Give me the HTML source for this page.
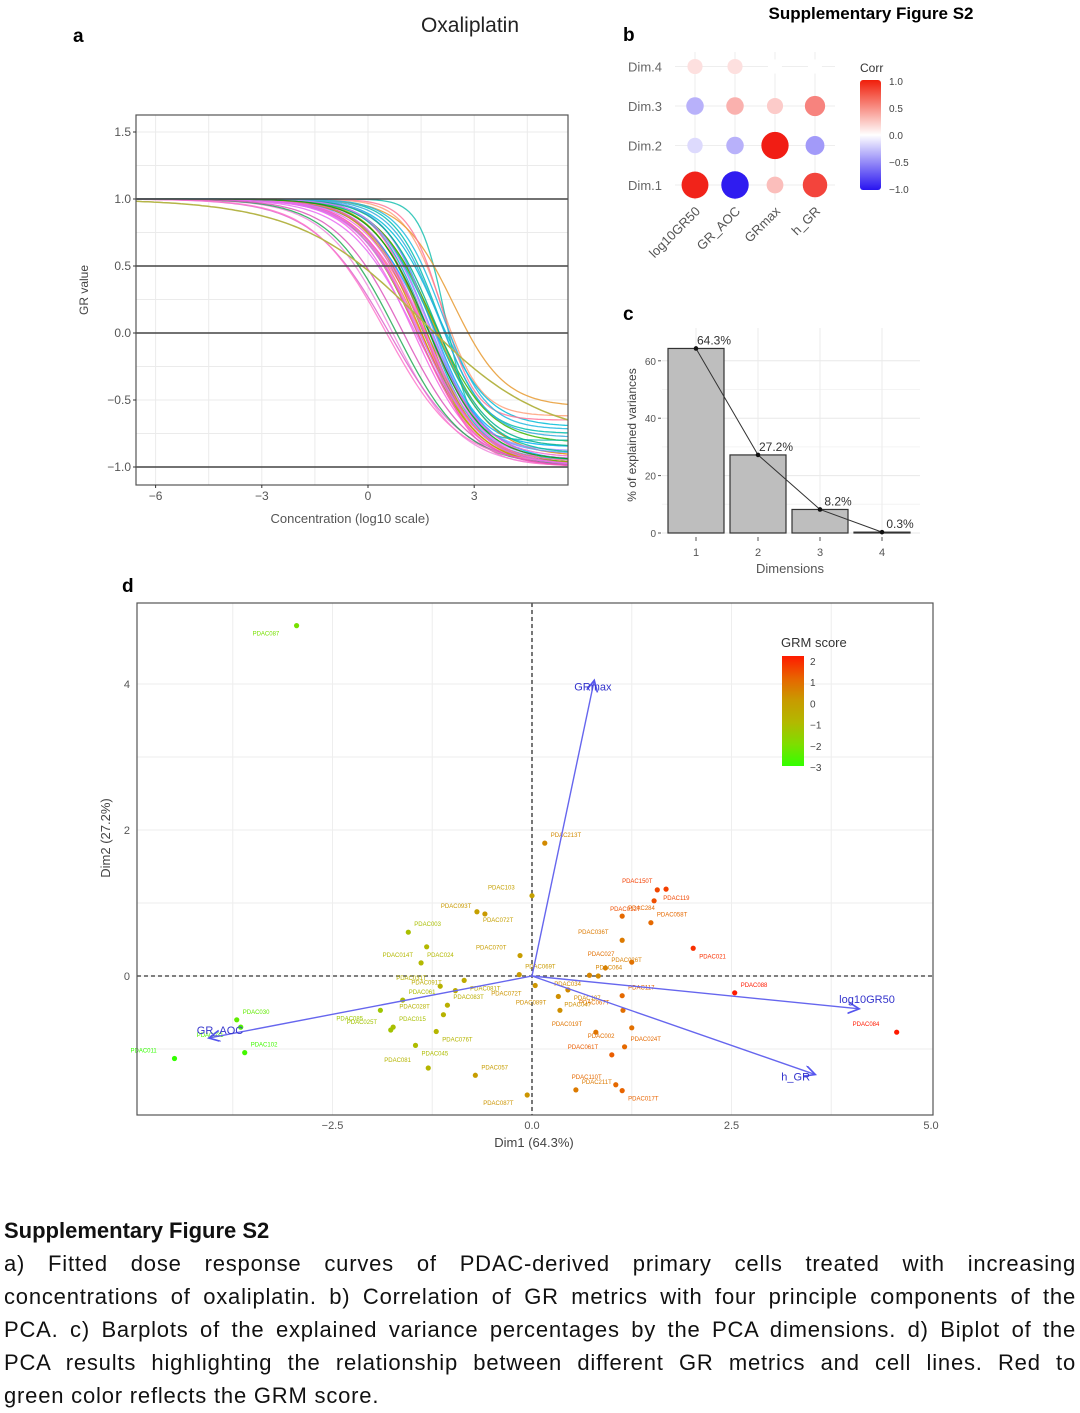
<!DOCTYPE html>
<html><head><meta charset="utf-8">
<style>
body{margin:0;background:#fff;width:1080px;height:1413px;overflow:hidden;position:relative;font-family:"Liberation Sans",sans-serif}
svg{position:absolute;left:0;top:0}
.cap{position:absolute;left:4px;width:1072px;font-size:22px;letter-spacing:0.8px;color:#111;line-height:33px}
.cap div{text-align:justify;text-align-last:justify;white-space:nowrap;overflow:hidden}
.cap div.last{text-align-last:left}
</style></head><body>
<svg id="fig" width="1080" height="1200"></svg>
<div class="cap" style="top:1214px">
<div class="last" style="font-weight:bold;font-size:22px;letter-spacing:0">Supplementary Figure S2</div>
<div>a) Fitted dose response curves of PDAC-derived primary cells treated with increasing</div>
<div>concentrations of oxaliplatin. b) Correlation of GR metrics with four principle components of the</div>
<div>PCA. c) Barplots of the explained variance percentages by the PCA dimensions. d) Biplot of the</div>
<div>PCA results highlighting the relationship between different GR metrics and cell lines. Red to</div>
<div class="last">green color reflects the GRM score.</div>
</div>
<script>
// ---- Panel a data ----
const curveMid=[1.5,1.6,1.7,1.4,1.8,1.9,1.65,1.55,1.3,2.0,1.75,1.45,1.85,2.1,1.6,1.7,1.35,1.95,1.5,1.8,0.7,0.6,0.8,0.5,2.2,2.4,2.1,1.7,1.9,1.4,1.65,2.0,1.6,1.85,1.75,1.55,1.0,2.1,1.45,1.7];
const curveHill=[0.5,0.55,0.6,0.5,0.65,0.55,0.45,0.55,0.5,0.7,0.6,0.48,0.55,0.8,0.65,0.5,0.45,0.6,0.55,0.65,0.45,0.4,0.45,0.42,1.2,0.6,0.9,0.55,0.6,0.52,0.58,0.65,0.5,0.55,0.6,0.55,0.45,0.7,0.5,0.55];
const curveInf=[-1,-0.98,-0.95,-1,-0.85,-0.92,-1,-0.97,-1,-0.75,-0.9,-1,-0.82,-0.62,-0.99,-0.96,-1,-0.7,-0.98,-0.88,-1,-1,-0.99,-0.98,-0.8,-0.55,-0.65,-0.93,-0.85,-1,-0.97,-0.78,-0.99,-0.9,-0.94,-0.96,-1,-0.72,-0.99,-0.95];
const curveCol=["#f8766d","#e76bf3","#00bfc4","#7cae00","#00b0f6","#e58700","#ff61c3","#00ba38","#f564e3","#00c0af","#619cff","#db72fb","#39b600","#ffa07a","#ff62bc","#00a9ff","#e76bf3","#00bcd8","#d39200","#9590ff","#ee88dd","#dd66cc","#22aa55","#ff77cc","#19c0b0","#e89a30","#ff7799","#f066d0","#00b08a","#ff55aa","#a3a500","#33aadd","#ee66ee","#00c19a","#c77cff","#ff6c91","#dd55bb","#20b8e0","#e070f0","#00a000"];
const olive={mid:1.5,hill:0.25,inf:-0.8};
const aYTicks=[-1.0,-0.5,0.0,0.5,1.0,1.5];
const aXTicks=[-6,-3,0,3];
// ---- Panel b data ----
const bCols=["log10GR50","GR_AOC","GRmax","h_GR"];
const bRows=["Dim.1","Dim.2","Dim.3","Dim.4"];
const bCorr=[[0.92,-0.96,0.2,0.75],[-0.1,-0.25,0.95,-0.35],[-0.25,0.25,0.15,0.45],[0.08,0.08,0.0,0.0]];
// ---- Panel c data ----
const cDims=["1","2","3","4"];
const cVals=[64.3,27.2,8.2,0.3];
const cYTicks=[0,20,40,60];
// ---- Panel d data ----
const dX=[-2.95,0.16,0.0,1.57,1.68,1.13,1.53,1.49,1.13,2.02,1.25,0.92,0.83,2.54,4.57,-0.69,-0.59,-1.55,-1.32,-1.39,-0.15,-0.85,-1.15,-1.62,-1.9,-1.74,-1.77,-1.46,-1.3,-0.71,-0.06,0.55,1.05,1.13,1.0,1.16,1.25,1.13,0.35,0.45,1.14,-0.16,0.04,-1.06,-1.11,-1.2,-0.96,-3.7,-3.65,-3.6,-4.48,0.33,0.8,0.72];
const dY=[4.8,1.82,1.1,1.18,1.19,0.82,1.03,0.73,0.49,0.38,0.19,0.11,0.0,-0.23,-0.77,0.88,0.85,0.6,0.4,0.18,0.28,-0.06,-0.14,-0.33,-0.47,-0.7,-0.74,-0.95,-1.26,-1.36,-1.63,-1.56,-1.49,-1.57,-1.08,-0.97,-0.71,-0.27,-0.47,-0.19,-0.47,0.02,-0.13,-0.4,-0.53,-0.76,-0.2,-0.6,-0.7,-1.05,-1.13,-0.28,-0.77,0.01];
const dScore=[-2.1,0.3,-0.2,1.4,1.5,0.9,1.3,0.9,0.6,1.7,0.8,0.5,0.3,2.0,2.2,-0.2,0.0,-1.2,-1.0,-1.0,-0.1,-0.5,-0.8,-1.1,-1.4,-1.2,-1.3,-1.1,-0.9,-0.1,0.1,0.6,0.9,1.0,1.1,0.9,0.8,0.9,0.2,0.3,0.8,0.0,0.1,-0.7,-0.8,-0.9,-0.6,-2.4,-2.6,-2.8,-3.0,0.2,0.7,0.4];
const dLab=["PDAC087","PDAC213T","PDAC103","PDAC119","PDAC150T","PDAC284","PDAC012T","PDAC058T","PDAC036T","PDAC021","PDAC027","PDAC026T","PDAC034","PDAC088","PDAC084","PDAC072T","PDAC093T","PDAC003","PDAC014T","PDAC024","PDAC070T","PDAC081T","PDAC031T","PDAC061","PDAC085","PDAC015","PDAC025T","PDAC045","PDAC081","PDAC057","PDAC087T","PDAC211T","PDAC110T","PDAC017T","PDAC061T","PDAC024T","PDAC002","PDAC117","PDAC089T","PDAC107","PDAC067T","PDAC069T","PDAC072T","PDAC083T","PDAC028T","PDAC076T","PDAC091T","PDAC030","PDAC031","PDAC102","PDAC011","PDAC047","PDAC019T","PDAC064"];
const arrName=["GRmax","log10GR50","h_GR","GR_AOC"];
const arrX=[0.78,4.1,3.55,-4.05];
const arrY=[4.05,-0.45,-1.35,-0.85];
const gradTicks=[2,1,0,-1,-2,-3];

const NS="http://www.w3.org/2000/svg";
const svg=document.getElementById('fig');
function el(tag,attrs,parent,text){const e=document.createElementNS(NS,tag);for(const k in attrs)e.setAttribute(k,attrs[k]);if(text!==undefined)e.textContent=text;(parent||svg).appendChild(e);return e;}
function txt(x,y,s,size,opts,parent){const o=Object.assign({x:x,y:y,'font-size':size,'font-family':'Liberation Sans, sans-serif',fill:'#333'},opts||{});return el('text',o,parent,s);}

let t;
t=txt(73,42,'a',19,{'font-weight':'bold',fill:'#000'});
t=txt(470,32,'Oxaliplatin',21,{'text-anchor':'middle',fill:'#222'});
t=txt(871,19,'Supplementary Figure S2',17,{'text-anchor':'middle','font-weight':'bold',fill:'#000'});
t=txt(623,41,'b',19,{'font-weight':'bold',fill:'#000'});
t=txt(623,320,'c',19,{'font-weight':'bold',fill:'#000'});
t=txt(122,592,'d',19,{'font-weight':'bold',fill:'#000'});

// ---- Panel a ----
const gA=el('g',{});
const aL=136,aR=568,aT=115,aB=485;
const ax=v=>368+v*35.4, ay=v=>333-v*134;
for(let v=-6;v<=5;v+=1.5){const l=el('line',{x1:ax(v),x2:ax(v),y1:aT,y2:aB,stroke:'#ebebeb','stroke-width':1},gA);}
for(let v=-1;v<=1.5;v+=0.25){const l=el('line',{x1:aL,x2:aR,y1:ay(v),y2:ay(v),stroke:'#ebebeb','stroke-width':1},gA);}
function curvePath(m,h,inf){let d='';for(let px=aL;px<=aR;px+=3){const x=(px-368)/35.4;const y=inf+(1-inf)/(1+Math.pow(10,h*(x-m)));d+=(d?'L':'M')+px.toFixed(1)+','+ay(y).toFixed(1);}return d;}
curveMid.forEach((m,i)=>{const p=el('path',{d:curvePath(m,curveHill[i],curveInf[i]),fill:'none',stroke:curveCol[i],'stroke-width':1.3,opacity:0.85},gA);});
{const p=el('path',{d:curvePath(olive.mid,olive.hill,olive.inf),fill:'none',stroke:'#b5b548','stroke-width':1.5},gA);}
[-1,0,0.5,1].forEach(v=>{const l=el('line',{x1:aL,x2:aR,y1:ay(v),y2:ay(v),stroke:'#444','stroke-width':1.6},gA);});
{const r=el('rect',{x:aL,y:aT,width:aR-aL,height:aB-aT,fill:'none',stroke:'#555','stroke-width':1.2},gA);}
aYTicks.forEach(v=>{const s=v<0?'\u2212'+Math.abs(v).toFixed(1):v.toFixed(1);const tt=txt(aL-5,ay(v)+4,s,12,{'text-anchor':'end',fill:'#555'},gA);el('line',{x1:aL-3,x2:aL,y1:ay(v),y2:ay(v),stroke:'#333'},gA);});
aXTicks.forEach(v=>{const s=v<0?'\u2212'+Math.abs(v):String(v);const tt=txt(ax(v),aB+15,s,12,{'text-anchor':'middle',fill:'#555'},gA);el('line',{x1:ax(v),x2:ax(v),y1:aB,y2:aB+3,stroke:'#333'},gA);});
t=txt(350,523,'Concentration (log10 scale)',13,{'text-anchor':'middle',fill:'#555'},gA);
t=txt(88,290,'GR value',12,{'text-anchor':'middle',fill:'#444',transform:'rotate(-90 88 290)'},gA);

// ---- Panel b ----
const gB=el('g',{});
const bx=i=>695+i*40, by=i=>185-i*39.5;
function corrColor(v){const a=Math.min(1,Math.abs(v));let c0=[255,255,255],c1=v>=0?[240,20,10]:[40,20,240];const k=Math.pow(a,0.8);return 'rgb('+c0.map((c,j)=>Math.round(c+(c1[j]-c)*k)).join(',')+')';}
for(let i=0;i<4;i++){el('line',{x1:bx(i),x2:bx(i),y1:52,y2:200,stroke:'#eee'},gB);el('line',{x1:675,x2:835,y1:by(i),y2:by(i),stroke:'#eee'},gB);}
bRows.forEach((r,i)=>{const tt=txt(662,by(i)+5,r,13,{'text-anchor':'end',fill:'#666'},gB);
 bCols.forEach((c,j)=>{const v=bCorr[i][j];const cc=el('circle',{cx:bx(j),cy:by(i),r:7+7*Math.abs(v),fill:corrColor(v)},gB);});});
bCols.forEach((c,j)=>{const x=bx(j)+6,y=212;const tt=txt(x,y,c,13,{'text-anchor':'end',fill:'#555',transform:'rotate(-45 '+x+' '+y+')'},gB);});
el('defs',{},svg).innerHTML='<linearGradient id="corrG" x1="0" y1="0" x2="0" y2="1"><stop offset="0" stop-color="#f01e0a"/><stop offset="0.5" stop-color="#fff"/><stop offset="1" stop-color="#2814f0"/></linearGradient><linearGradient id="grmG" x1="0" y1="0" x2="0" y2="1"><stop offset="0" stop-color="#ff1a00"/><stop offset="0.2" stop-color="#e86400"/><stop offset="0.4" stop-color="#c99a00"/><stop offset="0.6" stop-color="#b3b800"/><stop offset="0.8" stop-color="#7fdd00"/><stop offset="1" stop-color="#33ff00"/></linearGradient>';
t=txt(860,72,'Corr',12,{fill:'#333'},gB);
{const r=el('rect',{x:860,y:80,width:21,height:110,rx:3,fill:'url(#corrG)'},gB);}
[[1,'1.0'],[0.5,'0.5'],[0,'0.0'],[-0.5,'\u22120.5'],[-1,'\u22121.0']].forEach(([v,s])=>{const y=135-v*54;const tt=txt(889,y+4,s,10,{fill:'#444'},gB);});

// ---- Panel c ----
const gC=el('g',{});
const cL=662,cR=920,cT=328,cB=533;
const cx=i=>696+i*62, cy=v=>cB-v*2.87;
[0,10,20,30,40,50,60].forEach(v=>el('line',{x1:cL,x2:cR,y1:cy(v),y2:cy(v),stroke:v%20?'#f4f4f4':'#e8e8e8'},gC));
cDims.forEach((d,i)=>el('line',{x1:cx(i),x2:cx(i),y1:cT,y2:cB,stroke:'#ebebeb'},gC));
cVals.forEach((v,i)=>{const r=el('rect',{x:cx(i)-28,y:cy(v),width:56,height:cB-cy(v),fill:'#bebebe',stroke:'#333','stroke-width':1.2},gC);});
{let d='';cVals.forEach((v,i)=>{d+=(i?'L':'M')+cx(i)+','+cy(v);});const p=el('path',{d:d,fill:'none',stroke:'#333','stroke-width':1},gC);}
cVals.forEach((v,i)=>{const c=el('circle',{cx:cx(i),cy:cy(v),r:2.3,fill:'#111'},gC);const tt=txt(cx(i)+18,cy(v)-4,v+'%',12,{'text-anchor':'middle',fill:'#333'},gC);});
cYTicks.forEach(v=>{const tt=txt(cL-6,cy(v)+4,String(v),10,{'text-anchor':'end',fill:'#555'},gC);el('line',{x1:cL-4,x2:cL-1,y1:cy(v),y2:cy(v),stroke:'#555'},gC);});
cDims.forEach((d,i)=>{const tt=txt(cx(i),cB+23,d,11,{'text-anchor':'middle',fill:'#555'},gC);el('line',{x1:cx(i),x2:cx(i),y1:cB+4,y2:cB+8,stroke:'#555'},gC);});
t=txt(790,573,'Dimensions',13,{'text-anchor':'middle',fill:'#555'},gC);
t=txt(636,435,'% of explained variances',12,{'text-anchor':'middle',fill:'#444',transform:'rotate(-90 636 435)'},gC);

// ---- Panel d ----
const gD=el('g',{});
const dL=137,dR=933,dT=603,dB=1115;
const dx=v=>532+v*79.8, dy=v=>976-v*73;
[-3.75,-2.5,-1.25,0,1.25,2.5,3.75].forEach(v=>el('line',{x1:dx(v),x2:dx(v),y1:dT,y2:dB,stroke:'#eee'},gD));
[-1,0,1,2,3,4].forEach(v=>el('line',{x1:dL,x2:dR,y1:dy(v),y2:dy(v),stroke:'#eee'},gD));
el('line',{x1:dx(0),x2:dx(0),y1:dT,y2:dB,stroke:'#555','stroke-width':1.6,'stroke-dasharray':'4,3'},gD);
el('line',{x1:dL,x2:dR,y1:dy(0),y2:dy(0),stroke:'#555','stroke-width':1.6,'stroke-dasharray':'4,3'},gD);
function scoreColor(s){const stops=[[-3,[51,255,0]],[-2,[127,221,0]],[-1,[179,184,0]],[0,[201,154,0]],[1,[232,100,0]],[2,[255,26,0]]];s=Math.max(-3,Math.min(2.2,s));for(let i=0;i<stops.length-1;i++){if(s<=stops[i+1][0]||i==stops.length-2){const f=Math.min(1,(s-stops[i][0])/(stops[i+1][0]-stops[i][0]));return 'rgb('+stops[i][1].map((c,j)=>Math.round(c+(stops[i+1][1][j]-c)*f)).join(',')+')';}}}
dX.forEach((x,i)=>{const col=scoreColor(dScore[i]);const c=el('circle',{cx:dx(x),cy:dy(dY[i]),r:2.6,fill:col},gD);
 const tt=txt(dx(x)+ (i%2?6:-44),dy(dY[i])-(i%3?6:-10),dLab[i],6,{fill:col},gD);});
el('defs',{},svg).innerHTML='<marker id="ah" markerWidth="10" markerHeight="10" refX="8" refY="4" orient="auto"><path d="M0,0 L8,4 L0,8" fill="none" stroke="#5555ee" stroke-width="1.2"/></marker>';
arrName.forEach((n,i)=>{const l=el('line',{x1:dx(0),y1:dy(0),x2:dx(arrX[i]),y2:dy(arrY[i]),stroke:'#6666ee','stroke-width':1.4,'marker-end':'url(#ah)'},gD);
 const off={GRmax:[-20,10],log10GR50:[-20,-6],h_GR:[-34,6],GR_AOC:[-12,-4]}[n];const tt=txt(dx(arrX[i])+off[0],dy(arrY[i])+off[1],n,11,{fill:'#3333cc'},gD);});
{const r=el('rect',{x:dL,y:dT,width:dR-dL,height:dB-dT,fill:'none',stroke:'#555','stroke-width':1.2},gD);}
[[-2.5,'\u22122.5'],[0,'0.0'],[2.5,'2.5'],[5,'5.0']].forEach(([v,s])=>{const tt=txt(dx(v),dB+14,s,11,{'text-anchor':'middle',fill:'#555'},gD);});
[[0,'0'],[2,'2'],[4,'4']].forEach(([v,s])=>{const tt=txt(dL-7,dy(v)+4,s,11,{'text-anchor':'end',fill:'#555'},gD);});
t=txt(534,1147,'Dim1 (64.3%)',13,{'text-anchor':'middle',fill:'#444'},gD);
t=txt(110,838,'Dim2 (27.2%)',13,{'text-anchor':'middle',fill:'#444',transform:'rotate(-90 110 838)'},gD);
t=txt(781,647,'GRM score',13,{fill:'#333'},gD);
{const r=el('rect',{x:782,y:656,width:22,height:110,fill:'url(#grmG)'},gD);}
gradTicks.forEach((v,i)=>{const y=661+i*21.2;const tt=txt(810,y+4,v<0?'\u2212'+Math.abs(v):String(v),10,{fill:'#444'},gD);});
</script>
</body></html>
